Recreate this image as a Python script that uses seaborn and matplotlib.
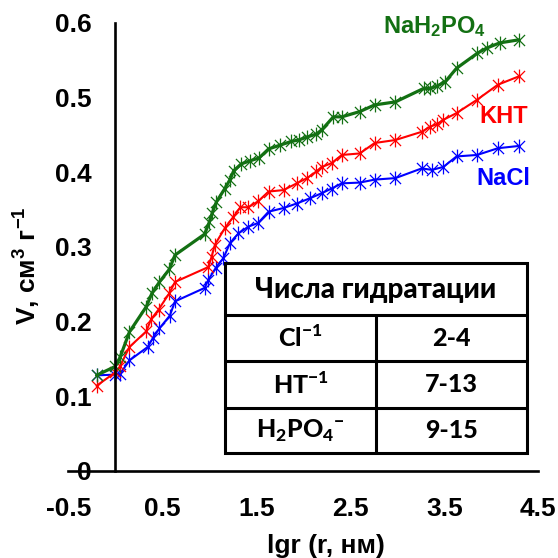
import numpy as np
import pandas as pd
import matplotlib
matplotlib.use('Agg')
import matplotlib.pyplot as plt
import seaborn as sns
from matplotlib.path import Path
from matplotlib.patches import Rectangle
from matplotlib.ticker import MultipleLocator, FixedLocator, FixedFormatter

# ---------------- data ----------------
nacl_x = [-0.2, 0.0, 0.05, 0.15, 0.345, 0.40, 0.47, 0.58, 0.635, 0.95, 0.99, 1.07, 1.15, 1.22,
          1.31, 1.415, 1.52, 1.63, 1.79, 1.93, 2.07, 2.2, 2.3, 2.41, 2.6, 2.76, 2.98, 3.26,
          3.37, 3.49, 3.63, 3.85, 4.07, 4.29]
nacl_y = [0.128, 0.129, 0.130, 0.148, 0.166, 0.178, 0.191, 0.208, 0.227, 0.245, 0.256, 0.272,
          0.285, 0.305, 0.318, 0.327, 0.332, 0.347, 0.352, 0.358, 0.365, 0.372, 0.378, 0.385,
          0.386, 0.390, 0.392, 0.405, 0.403, 0.407, 0.421, 0.423, 0.432, 0.435]

kht_x = [-0.2, 0.0, 0.05, 0.15, 0.33, 0.38, 0.46, 0.575, 0.635, 0.99, 1.025, 1.06, 1.165, 1.255,
         1.33, 1.415, 1.52, 1.63, 1.79, 1.93, 2.04, 2.14, 2.2, 2.3, 2.41, 2.6, 2.76, 2.98, 3.26,
         3.35, 3.42, 3.49, 3.63, 3.85, 4.07, 4.29]
kht_y = [0.114, 0.132, 0.140, 0.166, 0.187, 0.203, 0.216, 0.238, 0.253, 0.273, 0.287, 0.303,
         0.325, 0.340, 0.353, 0.353, 0.361, 0.374, 0.376, 0.385, 0.392, 0.401, 0.407, 0.412,
         0.423, 0.425, 0.439, 0.443, 0.454, 0.461, 0.464, 0.470, 0.479, 0.497, 0.517, 0.528]

nah2po4_x = [-0.2, 0.0, 0.05, 0.15, 0.33, 0.39, 0.47, 0.575, 0.635, 0.95, 1.0, 1.03, 1.075, 1.165,
             1.22, 1.26, 1.34, 1.43, 1.53, 1.63, 1.75, 1.87, 1.95, 2.04, 2.14, 2.2, 2.32, 2.41,
             2.6, 2.76, 2.98, 3.28, 3.35, 3.42, 3.51, 3.63, 3.85, 3.95, 4.09, 4.29]
nah2po4_y = [0.128, 0.140, 0.152, 0.186, 0.220, 0.238, 0.253, 0.270, 0.289, 0.317, 0.333, 0.345,
             0.360, 0.378, 0.390, 0.402, 0.411, 0.415, 0.419, 0.431, 0.436, 0.441, 0.443, 0.447,
             0.451, 0.457, 0.474, 0.474, 0.481, 0.490, 0.494, 0.512, 0.512, 0.515, 0.521, 0.539,
             0.559, 0.566, 0.573, 0.577]

series_names = ['NaCl', 'KHT', 'NaH2PO4']
series_labels = ['NaCl', 'KHT', 'NaH$_2$PO$_4$']
label_pos_x = [3.84, 3.87, 2.85]
label_pos_y = [0.383, 0.466, 0.586]

x_ticks = [-0.5, 0.5, 1.5, 2.5, 3.5, 4.5]
x_ticklabels = ['-0.5', '0.5', '1.5', '2.5', '3.5', '4.5']
y_ticks = [0, 0.1, 0.2, 0.3, 0.4, 0.5, 0.6]
y_ticklabels = ['0', '0.1', '0.2', '0.3', '0.4', '0.5', '0.6']

x_title = 'lgr (r, нм)'
y_title = 'V, см$^3$ г$^{-1}$'

table_title = 'Числа гидратации'
table_ions = ['Cl$^{\\mathsf{-1}}$', 'HT$^{\\mathsf{-1}}$',
              'H$_{\\mathsf{2}}$PO$_{\\mathsf{4}}{}^{\\mathsf{-}}$']
table_numbers = ['2-4', '7-13', '9-15']

# ---------------- style ----------------
sns.set_style('white')
plt.rcParams['font.family'] = ['Liberation Sans', 'DejaVu Sans']
plt.rcParams['font.weight'] = 'bold'
plt.rcParams['text.color'] = 'black'
plt.rcParams['axes.labelcolor'] = 'black'
plt.rcParams['xtick.color'] = 'black'
plt.rcParams['ytick.color'] = 'black'
plt.rcParams['mathtext.fontset'] = 'custom'
plt.rcParams['mathtext.rm'] = 'Liberation Sans:bold'
plt.rcParams['mathtext.it'] = 'Liberation Sans:bold'
plt.rcParams['mathtext.bf'] = 'Liberation Sans:bold'
plt.rcParams['mathtext.sf'] = 'Lato:black'

colors = ['#0000ff', '#ff0000', '#137013']
lwidths = [1.5, 1.5, 2.3]

fig = plt.figure(figsize=(5.58, 5.58), dpi=100)
ax = fig.add_axes([68.3 / 558, 87 / 558, 470 / 558, 448.3 / 558])

M, L = Path.MOVETO, Path.LINETO
asterisk = Path([(-1, -1), (1, 1), (-1, 1), (1, -1), (0, -1.25), (0, 1.25)],
                [M, L, M, L, M, L])

frames = []
for name, xs, ys in zip(series_names, [nacl_x, kht_x, nah2po4_x], [nacl_y, kht_y, nah2po4_y]):
    frames.append(pd.DataFrame({'lgr': xs, 'V': ys, 'series': name}))
df = pd.concat(frames, ignore_index=True)

for name, color, lw in zip(series_names, colors, lwidths):
    sub = df[df['series'] == name]
    sns.lineplot(data=sub, x='lgr', y='V', ax=ax, color=color, linewidth=lw,
                 marker=asterisk, markersize=10, markeredgecolor=color,
                 markerfacecolor='none', markeredgewidth=0.9,
                 estimator=None, sort=False, legend=False)

for lab, color, lx, ly in zip(series_labels, colors, label_pos_x, label_pos_y):
    ax.text(lx, ly, lab, color=color, fontsize=17, fontweight='bold',
            ha='left', va='baseline')

ax.set_xlim(-0.5, 4.5)
ax.set_ylim(0, 0.6)
for s in ['top', 'right']:
    ax.spines[s].set_visible(False)
ax.spines['left'].set_position(('data', 0))
ax.spines['bottom'].set_position(('data', 0))
for s in ['left', 'bottom']:
    ax.spines[s].set_linewidth(1.9)
    ax.spines[s].set_color('black')

ax.xaxis.set_major_locator(FixedLocator(x_ticks))
ax.xaxis.set_major_formatter(FixedFormatter(x_ticklabels))
ax.xaxis.set_minor_locator(MultipleLocator(0.2, offset=0.1))
ax.yaxis.set_major_locator(FixedLocator(y_ticks))
ax.yaxis.set_major_formatter(FixedFormatter(y_ticklabels))
ax.yaxis.set_minor_locator(MultipleLocator(0.02))

ax.tick_params(which='major', direction='inout', length=11.5, width=1.9,
               labelsize=19, color='black', labelcolor='black')
ax.tick_params(axis='y', which='major', pad=11.5)
ax.tick_params(axis='x', which='major', pad=13)
ax.tick_params(which='minor', direction='out', length=3.8, width=1.6, color='black')
for t in ax.get_xticklabels() + ax.get_yticklabels():
    t.set_fontweight('bold')

ax.set_xlabel(x_title, fontsize=19, fontweight='bold', color='black')
ax.xaxis.set_label_coords(0.549, -0.167)
ax.xaxis.label.set_va('center')
ax.set_ylabel(y_title, fontsize=19, fontweight='bold', color='black')
ax.yaxis.set_label_coords(-0.088, 0.457)
ax.yaxis.label.set_va('center')

# ---------------- table ----------------
tax = fig.add_axes([225 / 558, (558 - 453) / 558, 302 / 558, 190 / 558])
tax.set_xlim(0, 302)
tax.set_ylim(190, 0)
tax.axis('off')
tlw = 2.2
tax.add_patch(Rectangle((0, 0), 302, 190, facecolor='white', edgecolor='black',
                        lw=tlw, clip_on=False))
row_edges = [52, 98, 145]
for yv in row_edges:
    tax.plot([0, 302], [yv, yv], color='black', lw=tlw, clip_on=False)
tax.plot([151, 151], [52, 190], color='black', lw=tlw, clip_on=False)
tfont = dict(family=['Lato', 'DejaVu Sans'], fontweight='black', color='black')
tax.text(151, 27, table_title, fontsize=20, ha='center', va='center', **tfont)
row_centers = [75, 121.5, 167.5]
for ion, num, yc in zip(table_ions, table_numbers, row_centers):
    tax.text(75.5, yc, ion, fontsize=18, ha='center', va='center', **tfont)
    tax.text(226.5, yc, num, fontsize=18, ha='center', va='center', **tfont)

fig.savefig('out.png', dpi=100)
